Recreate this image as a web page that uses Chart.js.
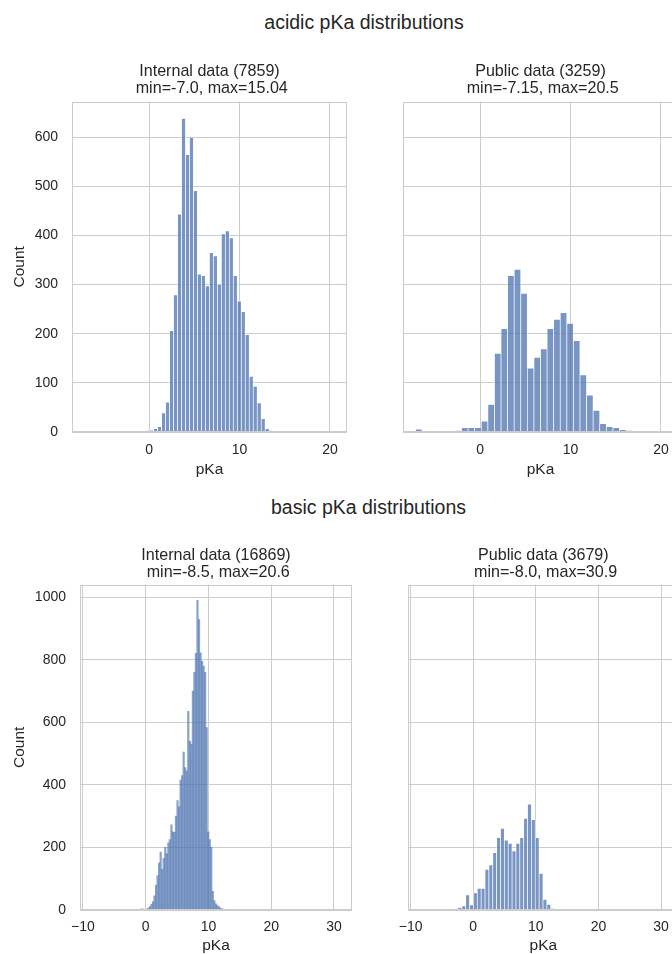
<!DOCTYPE html>
<html><head><meta charset="utf-8">
<script src="https://cdn.jsdelivr.net/npm/chart.js@4.4.1/dist/chart.umd.min.js"></script>
<style>
html,body{margin:0;padding:0;background:#fff;overflow:hidden;width:672px;height:954px;}
body{position:relative;font-family:"Liberation Sans",Arial,sans-serif;color:#262626;}
.sup{position:absolute;font-size:19.5px;line-height:22px;white-space:nowrap;transform:translateX(-50%);}
canvas{position:absolute;}
</style></head><body>
<div class="sup" style="left:364px;top:10.5px">acidic pKa distributions</div>
<div class="sup" style="left:368.5px;top:495.5px">basic pKa distributions</div>
<canvas id="c1" width="362" height="436" style="left:0px;top:44px"></canvas>
<canvas id="c2" width="310" height="436" style="left:390px;top:44px"></canvas>
<canvas id="c3" width="368" height="430" style="left:0px;top:528px"></canvas>
<canvas id="c4" width="310" height="430" style="left:390px;top:528px"></canvas>
<script>
// ---- data (histogram counts per bin; bins evenly span [min,max] of each dataset) ----
const acidInternalMin = -7.0, acidInternalMax = 15.04;   // 50 bins
const acidInternalCounts = [
  1,0,0,0,0,1,0,0,0,0,
  1,0,0,2,2,3,4,7,11,39,
  61,206,279,443,638,564,599,491,321,318,
  297,365,358,301,403,409,395,318,266,245,
  198,113,93,59,27,7,3,2,1,1];
const acidPublicMin = -7.15, acidPublicMax = 20.5;       // 38 bins
const acidPublicCounts = [
  6,0,0,0,0,1,3,9,9,9,
  22,56,160,210,318,331,282,130,152,169,
  210,229,243,221,186,116,75,44,17,11,
  9,5,3,2,1,1,0,1];
const basicInternalMin = -8.5, basicInternalMax = 20.6;  // 119 bins
const basicInternalCounts = [
  1,0,0,0,0,0,0,0,0,0,
  0,0,0,0,0,0,0,0,0,0,
  0,0,0,0,0,0,0,0,0,0,
  0,3,4,2,1,3,6,11,18,27,
  45,80,110,150,185,130,165,200,180,215,
  225,272,250,248,300,350,330,415,430,505,
  455,445,635,540,530,700,760,820,990,928,
  822,795,780,760,583,250,225,200,60,30,
  20,14,10,6,4,3,2,1,0,0,
  0,0,0,0,0,0,0,0,0,0,
  0,0,0,0,0,0,0,0,0,0,
  0,0,0,0,0,0,0,0,1];
const basicPublicMin = -8.0, basicPublicMax = 30.9;      // 63 bins
const basicPublicCounts = [
  1,0,0,0,0,0,2,3,4,8,
  13,48,16,55,69,69,130,144,183,231,
  261,223,213,189,213,231,293,338,289,231,
  117,34,18,5,3,2,0,0,0,0,
  0,0,0,0,0,0,0,0,0,0,
  0,0,0,0,0,0,0,0,0,0,
  0,0,1];
// axis limits and tick labels
const acidXLim = [-8.53, 21.88], acidYMax = 672;
const basicXLim = [-10.47, 32.87], basicYMax = 1040;
const acidXTicks = [0, 10, 20];
const basicXTicks = [-10, 0, 10, 20, 30];
const acidYTicks = [0, 100, 200, 300, 400, 500, 600];
const basicYTicks = [0, 200, 400, 600, 800, 1000];
const titles = {
  c1: ['Internal data (7859)', ' min=-7.0, max=15.04'],
  c2: ['Public data (3259)', ' min=-7.15, max=20.5'],
  c3: ['Internal data (16869)', ' min=-8.5, max=20.6'],
  c4: ['Public data (3679)', ' min=-8.0, max=30.9']
};
const xLabel = 'pKa', yLabel = 'Count';

// ---- styling ----
const FONT = "'Liberation Sans', Arial, sans-serif";
const TXT = '#262626', GRID = '#cccccc';
Chart.defaults.font.family = FONT;
Chart.defaults.color = TXT;

function bins(min, max, counts) {
  const w = (max - min) / counts.length;
  return counts.map((c, i) => ({x: min + (i + 0.5) * w, y: c > 0 ? c : null}));
}
const fmt = v => (v < 0 ? '\u2212' + Math.abs(v) : String(v));

const framePlugin = {
  id: 'frame',
  afterDatasetsDraw(chart) {
    const a = chart.chartArea, ctx = chart.ctx;
    ctx.save();
    ctx.strokeStyle = GRID; ctx.lineWidth = 1;
    ctx.strokeRect(Math.round(a.left) + 0.5, Math.round(a.top) + 0.5,
      Math.round(a.right - a.left) - 1, Math.round(a.bottom - a.top) - 1);
    ctx.restore();
  }
};

function make(id, data, xLim, xTicks, yMax, yTicks, opt) {
  new Chart(document.getElementById(id), {
    type: 'bar',
    data: {datasets: [{
      data: data,
      backgroundColor: opt.fill,
      borderColor: 'rgba(255,255,255,0.7)',
      borderWidth: opt.bw,
      barPercentage: 1, categoryPercentage: 1
    }]},
    options: {
      responsive: false, animation: false, devicePixelRatio: 1,
      layout: {padding: {left: 0, right: opt.padR, top: 0, bottom: 0}},
      plugins: {
        legend: {display: false}, tooltip: {enabled: false},
        title: {display: true, text: titles[id], fullSize: false, color: TXT,
          font: {size: 16.1, weight: 'normal', lineHeight: 1.05},
          padding: {top: 19.5, bottom: opt.titleB}}
      },
      scales: {
        x: {type: 'linear', min: xLim[0], max: xLim[1], offset: false,
          grid: {color: GRID, lineWidth: 1, drawTicks: false, offset: false},
          border: {display: false},
          afterBuildTicks: s => { s.ticks = xTicks.map(v => ({value: v})); },
          ticks: {autoSkip: false, maxRotation: 0,
            padding: opt.xPad, color: TXT, font: {size: 14}, callback: fmt},
          title: {display: true, text: xLabel, color: TXT, font: {size: 15.5, lineHeight: 1.2},
            padding: {top: 0, bottom: opt.xTitleB}},
          afterFit: s => { s.height = 48; }
        },
        y: {type: 'linear', min: 0, max: yMax,
          grid: {color: GRID, lineWidth: 1, drawTicks: false},
          border: {display: false},
          afterBuildTicks: s => { s.ticks = yTicks.map(v => ({value: v})); },
          ticks: {display: opt.left, padding: 14, color: TXT, font: {size: 14},
            callback: v => String(v)},
          title: {display: opt.left, text: yLabel, color: TXT, font: {size: 15.5, lineHeight: 1.2},
            padding: {top: 10.7, bottom: 0}},
          afterFit: s => { s.width = opt.yW; }
        }
      }
    },
    plugins: [framePlugin]
  });
}

const BAR = 'rgba(76,114,176,0.75)';
make('c1', bins(acidInternalMin, acidInternalMax, acidInternalCounts), acidXLim, acidXTicks, acidYMax, acidYTicks,
  {left: true, yW: 72, padR: 15, titleB: 4.3, xPad: 9.6, xTitleB: 1.2, bw: 0.7, fill: BAR});
make('c2', bins(acidPublicMin, acidPublicMax, acidPublicCounts), acidXLim, acidXTicks, acidYMax, acidYTicks,
  {left: false, yW: 13, padR: 22, titleB: 4.3, xPad: 9.6, xTitleB: 1.2, bw: 0.7, fill: BAR});
make('c3', bins(basicInternalMin, basicInternalMax, basicInternalCounts), basicXLim, basicXTicks, basicYMax, basicYTicks,
  {left: true, yW: 80, padR: 16, titleB: 3.3, xPad: 8.6, xTitleB: 3.3, bw: 0, fill: 'rgba(76,114,176,0.66)'});
make('c4', bins(basicPublicMin, basicPublicMax, basicPublicCounts), basicXLim, basicXTicks, basicYMax, basicYTicks,
  {left: false, yW: 17, padR: 21, titleB: 3.3, xPad: 8.6, xTitleB: 3.3, bw: 0.7, fill: BAR});
</script>
</body></html>
